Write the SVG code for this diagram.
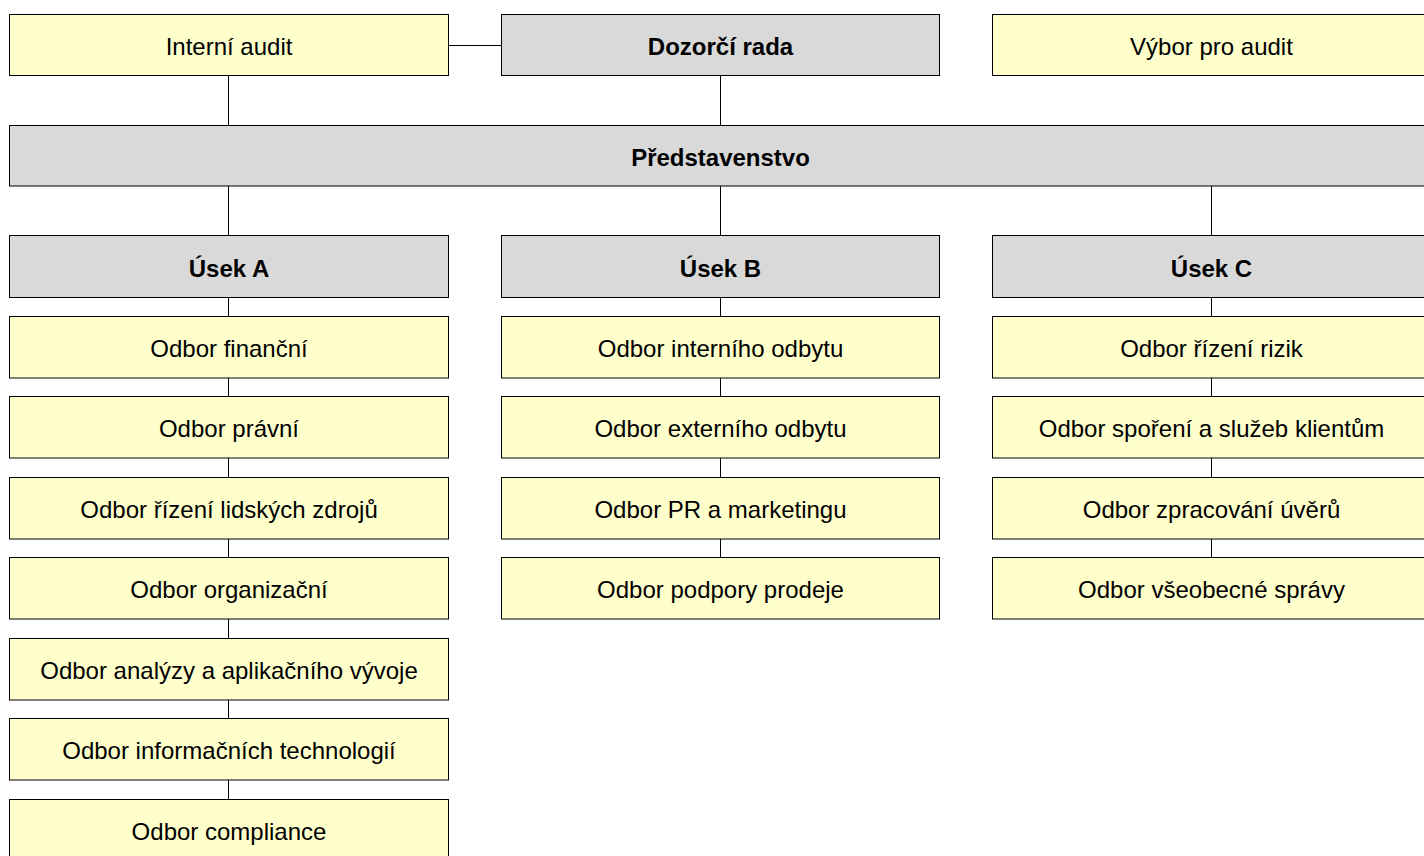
<svg xmlns="http://www.w3.org/2000/svg" width="1424" height="856" viewBox="0 0 1424 856">
<style>
.y{fill:#FFFFCC;stroke:#000;stroke-width:1}
.g{fill:#D9D9D9;stroke:#000;stroke-width:1}
text{font-family:"Liberation Sans",Arial,sans-serif;font-size:24px;fill:#000;text-anchor:middle}
.b{font-weight:bold}
.c{stroke:#000;stroke-width:1;fill:none}
</style>
<rect width="1424" height="856" fill="#fff"/>
<g id="connectors" class="c">
<line x1="448.5" y1="45.5" x2="501.5" y2="45.5"/>
<line x1="228.5" y1="75.5" x2="228.5" y2="125.5"/>
<line x1="720.5" y1="75.5" x2="720.5" y2="125.5"/>
<line x1="228.5" y1="186" x2="228.5" y2="235.5"/>
<line x1="720.5" y1="186" x2="720.5" y2="235.5"/>
<line x1="1211.5" y1="186" x2="1211.5" y2="235.5"/>
<line x1="228.5" y1="297.5" x2="228.5" y2="316.5"/>
<line x1="228.5" y1="378" x2="228.5" y2="396.5"/>
<line x1="228.5" y1="458" x2="228.5" y2="477.5"/>
<line x1="228.5" y1="539" x2="228.5" y2="557.5"/>
<line x1="228.5" y1="619" x2="228.5" y2="638.5"/>
<line x1="228.5" y1="700" x2="228.5" y2="718.5"/>
<line x1="228.5" y1="780" x2="228.5" y2="799.5"/>
<line x1="720.5" y1="297.5" x2="720.5" y2="316.5"/>
<line x1="720.5" y1="378" x2="720.5" y2="396.5"/>
<line x1="720.5" y1="458" x2="720.5" y2="477.5"/>
<line x1="720.5" y1="539" x2="720.5" y2="557.5"/>
<line x1="1211.5" y1="297.5" x2="1211.5" y2="316.5"/>
<line x1="1211.5" y1="378" x2="1211.5" y2="396.5"/>
<line x1="1211.5" y1="458" x2="1211.5" y2="477.5"/>
<line x1="1211.5" y1="539" x2="1211.5" y2="557.5"/>
</g>
<g id="interni-audit"><rect class="y" x="9.5" y="14.5" width="439" height="61"/><text x="229" y="55">Interní audit</text></g>
<g id="dozorci-rada"><rect class="g" x="501.5" y="14.5" width="438" height="61"/><text class="b" x="720.5" y="55">Dozorčí rada</text></g>
<g id="vybor-pro-audit"><rect class="y" x="992.5" y="14.5" width="438" height="61"/><text x="1211.5" y="55">Výbor pro audit</text></g>
<g id="predstavenstvo"><rect class="g" x="9.5" y="125.5" width="1421" height="60.5"/><text class="b" x="720.5" y="165.5">Představenstvo</text></g>
<g id="usek-a"><rect class="g" x="9.5" y="235.5" width="439" height="62"/><text class="b" x="229" y="276.5">Úsek A</text></g>
<g id="usek-b"><rect class="g" x="501.5" y="235.5" width="438" height="62"/><text class="b" x="720.5" y="276.5">Úsek B</text></g>
<g id="usek-c"><rect class="g" x="992.5" y="235.5" width="438" height="62"/><text class="b" x="1211.5" y="276.5">Úsek C</text></g>
<g id="a1"><rect class="y" x="9.5" y="316.5" width="439" height="61.5"/><text x="229" y="357">Odbor finanční</text></g>
<g id="a2"><rect class="y" x="9.5" y="396.5" width="439" height="61.5"/><text x="229" y="437">Odbor právní</text></g>
<g id="a3"><rect class="y" x="9.5" y="477.5" width="439" height="61.5"/><text x="229" y="518">Odbor řízení lidských zdrojů</text></g>
<g id="a4"><rect class="y" x="9.5" y="557.5" width="439" height="61.5"/><text x="229" y="598">Odbor organizační</text></g>
<g id="a5"><rect class="y" x="9.5" y="638.5" width="439" height="61.5"/><text x="229" y="679">Odbor analýzy a aplikačního vývoje</text></g>
<g id="a6"><rect class="y" x="9.5" y="718.5" width="439" height="61.5"/><text x="229" y="759">Odbor informačních technologií</text></g>
<g id="a7"><rect class="y" x="9.5" y="799.5" width="439" height="61.5"/><text x="229" y="840">Odbor compliance</text></g>
<g id="b1"><rect class="y" x="501.5" y="316.5" width="438" height="61.5"/><text x="720.5" y="357">Odbor interního odbytu</text></g>
<g id="b2"><rect class="y" x="501.5" y="396.5" width="438" height="61.5"/><text x="720.5" y="437">Odbor externího odbytu</text></g>
<g id="b3"><rect class="y" x="501.5" y="477.5" width="438" height="61.5"/><text x="720.5" y="518">Odbor PR a marketingu</text></g>
<g id="b4"><rect class="y" x="501.5" y="557.5" width="438" height="61.5"/><text x="720.5" y="598">Odbor podpory prodeje</text></g>
<g id="c1"><rect class="y" x="992.5" y="316.5" width="438" height="61.5"/><text x="1211.5" y="357">Odbor řízení rizik</text></g>
<g id="c2"><rect class="y" x="992.5" y="396.5" width="438" height="61.5"/><text x="1211.5" y="437">Odbor spoření a služeb klientům</text></g>
<g id="c3"><rect class="y" x="992.5" y="477.5" width="438" height="61.5"/><text x="1211.5" y="518">Odbor zpracování úvěrů</text></g>
<g id="c4"><rect class="y" x="992.5" y="557.5" width="438" height="61.5"/><text x="1211.5" y="598">Odbor všeobecné správy</text></g>
</svg>
